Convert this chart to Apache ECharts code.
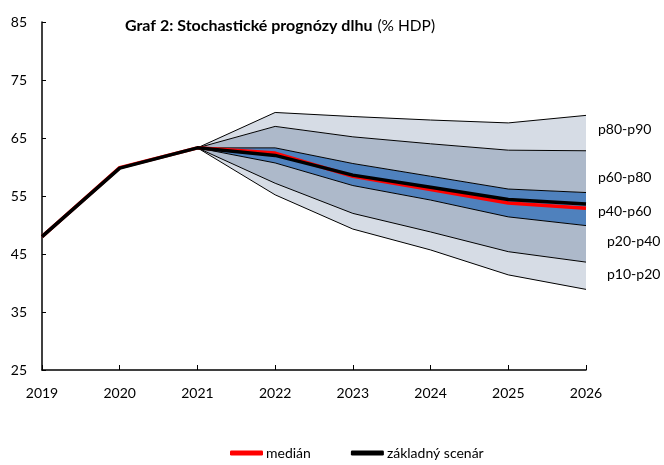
<!DOCTYPE html>
<html><head><meta charset="utf-8">
<script src="https://cdn.jsdelivr.net/npm/echarts@6/dist/echarts.min.js"></script>
<style>html,body{margin:0;padding:0;background:#fff}#c{width:664px;height:465px}</style>
</head><body><div id="c"></div>
<script>
var years = ['2019','2020','2021','2022','2023','2024','2025','2026'];
var p10 = ['-','-',63.3,55.2,49.3,45.7,41.4,38.9];
var p20 = ['-','-',63.3,57.2,52.0,48.8,45.4,43.6];
var p40 = ['-','-',63.3,60.7,56.8,54.3,51.4,49.9];
var p60 = ['-','-',63.3,63.3,60.6,58.4,56.2,55.6];
var p80 = ['-','-',63.3,67.0,65.2,64.0,62.9,62.8];
var p90 = ['-','-',63.3,69.4,68.7,68.1,67.6,68.9];
var median = [48.0,59.9,63.3,62.4,58.4,56.1,53.8,52.9];
var baseline = [48.0,59.8,63.3,62.0,58.6,56.5,54.4,53.6];
var bandLabels = ['p80-p90','p60-p80','p40-p60','p20-p40','p10-p20'];

function diff(a,b){return a.map(function(v,i){return v==='-'?'-':+(v-b[i]).toFixed(2);});}
var FONT = 'Lato, "Open Sans", sans-serif';
var light = '#d6dce5', mid = '#adb9ca', blue = '#4f81bd';
function band(name, data, color){
  return {name:name, type:'line', stack:'b', data:data, symbol:'none', silent:true,
    lineStyle:{color:'#000', width:1}, areaStyle:color?{color:color, opacity:1}:undefined, z:2};
}
var chart = echarts.init(document.getElementById('c'));
chart.setOption({
  animation:false,
  title:{text:'{b|Graf 2: Stochastické prognózy dlhu} {n|(% HDP)}', left:120, top:12,
    textStyle:{rich:{b:{fontFamily:FONT,fontWeight:'bold',fontSize:16,color:'#000'},n:{fontFamily:FONT,fontWeight:'normal',fontSize:15.5,color:'#000'}}}},
  legend:{data:['medián','základný scenár'], bottom:0, left:225, itemWidth:33, itemHeight:5, itemGap:40, icon:'roundRect',
    textStyle:{fontFamily:FONT,fontSize:14,color:'#000',padding:[0,0,0,-2]}},
  grid:{left:42, right:78, top:22, bottom:95},
  xAxis:{type:'category', data:years, boundaryGap:false,
    axisLine:{lineStyle:{color:'#000',width:1.5}}, axisTick:{inside:true,length:5,lineStyle:{color:'#000'}},
    axisLabel:{color:'#000',fontFamily:FONT,fontSize:14,margin:16}},
  yAxis:{type:'value', min:25, max:85, interval:10, splitLine:{show:false},
    axisLine:{show:true,lineStyle:{color:'#000',width:1.5}}, axisTick:{show:true,inside:true,length:4,lineStyle:{color:'#000'}},
    axisLabel:{color:'#000',fontFamily:FONT,fontSize:14,margin:15}},
  graphic: bandLabels.map(function(t,i){
    var xs=[598,598,598,607,607], ys=[131,179,213,243,276];
    return {type:'text', left:xs[i], top:ys[i]-9, style:{text:t, font:'14px '+FONT, fill:'#000'}};
  }),
  series:[
    band('p10', p10, null),
    band('p10-p20', diff(p20,p10), light),
    band('p20-p40', diff(p40,p20), mid),
    band('p40-p60', diff(p60,p40), blue),
    band('p60-p80', diff(p80,p60), mid),
    band('p80-p90', diff(p90,p80), light),
    {name:'medián', type:'line', data:median, symbol:'none', lineStyle:{color:'#ff0000',width:3.5}, itemStyle:{color:'#ff0000'}, z:3},
    {name:'základný scenár', type:'line', data:baseline, symbol:'none', lineStyle:{color:'#000',width:3.5}, itemStyle:{color:'#000'}, z:4}
  ]
});
</script></body></html>
